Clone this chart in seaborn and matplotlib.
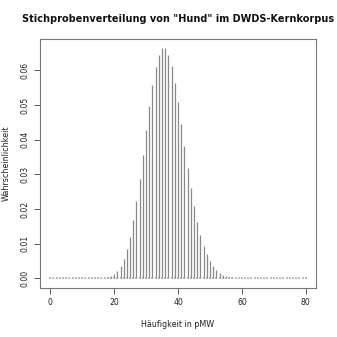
import matplotlib
matplotlib.use("Agg")
import matplotlib.pyplot as plt
import seaborn as sns
import pandas as pd

# Data (frequency in pMW vs probability)
haeufigkeit = list(range(0, 81))
wahrscheinlichkeit = [
    0.0, 0.0, 0.0, 0.0, 0.0, 0.0, 0.0, 0.0, 0.0, 0.0,
    0.0, 0.0, 0.0, 0.00001, 0.00002, 0.00004, 0.00009, 0.00019, 0.00037, 0.00071,
    0.00127, 0.00218, 0.00357, 0.00559, 0.00839, 0.01208, 0.01673, 0.02231, 0.02868, 0.03561,
    0.04273, 0.04962, 0.05582, 0.06090, 0.06448, 0.06632, 0.06632, 0.06453, 0.06113, 0.05643,
    0.05079, 0.04459, 0.03822, 0.03200, 0.02618, 0.02095, 0.01639, 0.01256, 0.00942, 0.00692,
    0.00498, 0.00352, 0.00243, 0.00165, 0.00110, 0.00072, 0.00046, 0.00029, 0.00018, 0.00011,
    0.00007, 0.00004, 0.00002, 0.00001, 0.0, 0.0, 0.0, 0.0, 0.0, 0.0,
    0.0, 0.0, 0.0, 0.0, 0.0, 0.0, 0.0, 0.0, 0.0, 0.0,
    0.0,
]
x_ticks = [0, 20, 40, 60, 80]
y_ticks = [0.00, 0.01, 0.02, 0.03, 0.04, 0.05, 0.06]
y_ticklabels = ["0.00", "0.01", "0.02", "0.03", "0.04", "0.05", "0.06"]
title = 'Stichprobenverteilung von "Hund" im DWDS-Kernkorpus'
xlabel = "Häufigkeit in pMW"
ylabel = "Wahrscheinlichkeit"

df = pd.DataFrame({"k": haeufigkeit, "p": wahrscheinlichkeit})

sns.set_style("white")
plt.rcParams["font.family"] = ["DejaVu Sans"]

fig = plt.figure(figsize=(3.37, 3.37), dpi=100)
left, right, bottom, top = 0.1187, 0.9377, 0.1463, 0.8834
ax = fig.add_axes([left, bottom, right - left, top - bottom])

# tiny marks at zero (R type="h" zero-length lines)
sns.scatterplot(data=df, x="k", y=[0.0] * len(df), ax=ax, marker="s", s=0.55,
                color="#bdbdbd", linewidth=0, legend=False, zorder=1)
sns.barplot(data=df, x="k", y="p", native_scale=True, width=0.001, color="#8a8a8a",
            edgecolor="#8a8a8a", linewidth=0.9, saturation=1, ax=ax, zorder=2)

pmax = max(wahrscheinlichkeit)
ax.set_xlim(-3.2, 83.2)
ax.set_ylim(-0.04 * pmax, pmax * 1.04)

ax.set_xticks(x_ticks)
ax.set_xticklabels([str(t) for t in x_ticks])
ax.set_yticks(y_ticks)
ax.set_yticklabels(y_ticklabels, rotation=90, va="center")

ax.tick_params(axis="both", direction="out", length=4.5, width=0.7, color="#555555",
               labelsize=5.6, labelcolor="#222222", pad=3, left=True, bottom=True)
for s in ax.spines.values():
    s.set_color("#777777")
    s.set_linewidth(0.8)
    s.set_visible(True)

ax.set_xlabel(xlabel, fontsize=5.8, color="#222222", labelpad=9)
ax.set_ylabel(ylabel, fontsize=5.8, color="#222222", labelpad=7)
fig.text((left + right) / 2, 0.945, title, ha="center", va="center", fontsize=7.0,
         fontweight="bold", color="#111111")

fig.savefig("out.png", dpi=100)
